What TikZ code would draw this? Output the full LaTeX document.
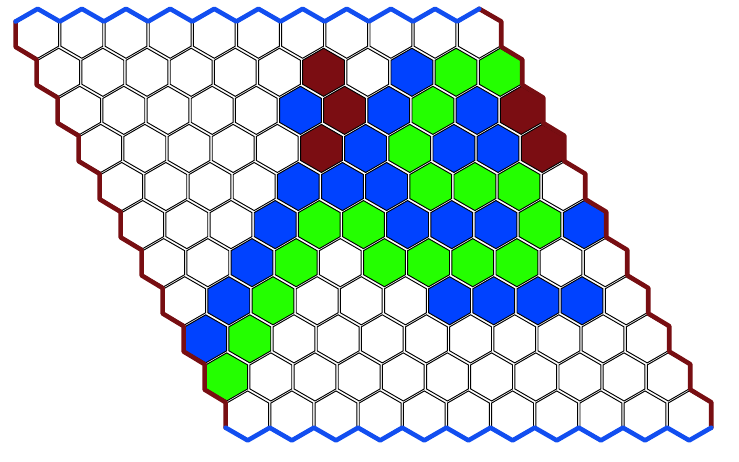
\documentclass[tikz,border=0pt]{standalone}
\usetikzlibrary{calc}
\definecolor{fillB}{RGB}{0,66,255}
\definecolor{fillG}{RGB}{36,255,0}
\definecolor{fillR}{RGB}{123,13,18}
\colorlet{fillW}{white}
\definecolor{edgeblue}{RGB}{18,78,240}
\definecolor{edgered}{RGB}{120,14,18}
\tikzset{
  cell/.style={draw=black, line width=0.95pt, line join=miter},
  bord/.style={line width=4.6pt, line join=round, line cap=round}
}
\begin{document}
\begin{tikzpicture}[x=1pt,y=-1pt]
\useasboundingbox (0,0) rectangle (739,461);
% centres of the 11x11 cells
\foreach \r in {0,...,10}{
  \foreach \k in {0,...,10}{
    \coordinate (h-\r-\k) at ({37.7+44.15*\k+21*\r},{34.2+38.08*\r});
  }
}
% cells
\foreach \r/\row in {
  0/{W,W,W,W,W,W,W,W,W,W,W},
  1/{W,W,W,W,W,W,R,W,B,G,G},
  2/{W,W,W,W,W,B,R,B,G,B,R},
  3/{W,W,W,W,W,R,B,G,B,B,R},
  4/{W,W,W,W,B,B,B,G,G,G,W},
  5/{W,W,W,B,G,G,B,B,B,G,B},
  6/{W,W,B,G,W,G,G,G,G,W,W},
  7/{W,B,G,W,W,W,B,B,B,B,W},
  8/{B,G,W,W,W,W,W,W,W,W,W},
  9/{G,W,W,W,W,W,W,W,W,W,W},
  10/{W,W,W,W,W,W,W,W,W,W,W}}{
  \foreach \c [count=\k from 0] in \row {
    \draw[cell, fill=fill\c, shift={(h-\r-\k)}]
      (0,-24.05) -- (20.9,-12.02) -- (20.9,12.02) -- (0,24.05)
      -- (-20.9,12.02) -- (-20.9,-12.02) -- cycle;
  }
}
% red borders (left and right)
\draw[bord, edgered] ($(h-0-0)+(-22.07,-12.7)$)
  \foreach \r in {0,...,10}{ -- ($(h-\r-0)+(-22.07,-12.7)$) -- ($(h-\r-0)+(-22.07,12.7)$) };
\draw[bord, edgered] ($(h-0-10)+(0,-25.4)$)
  \foreach \r in {0,...,10}{ -- ($(h-\r-10)+(22.07,-12.7)$) -- ($(h-\r-10)+(22.07,12.7)$) };
% blue borders (top and bottom)
\draw[bord, edgeblue] ($(h-0-0)+(-22.07,-12.7)$)
  \foreach \k in {0,...,10}{ -- ($(h-0-\k)+(-22.07,-12.7)$) -- ($(h-0-\k)+(0,-25.4)$) };
\draw[bord, edgeblue] ($(h-10-0)+(-22.07,12.7)$)
  \foreach \k in {0,...,10}{ -- ($(h-10-\k)+(0,25.4)$) -- ($(h-10-\k)+(22.07,12.7)$) };
\end{tikzpicture}
\end{document}
